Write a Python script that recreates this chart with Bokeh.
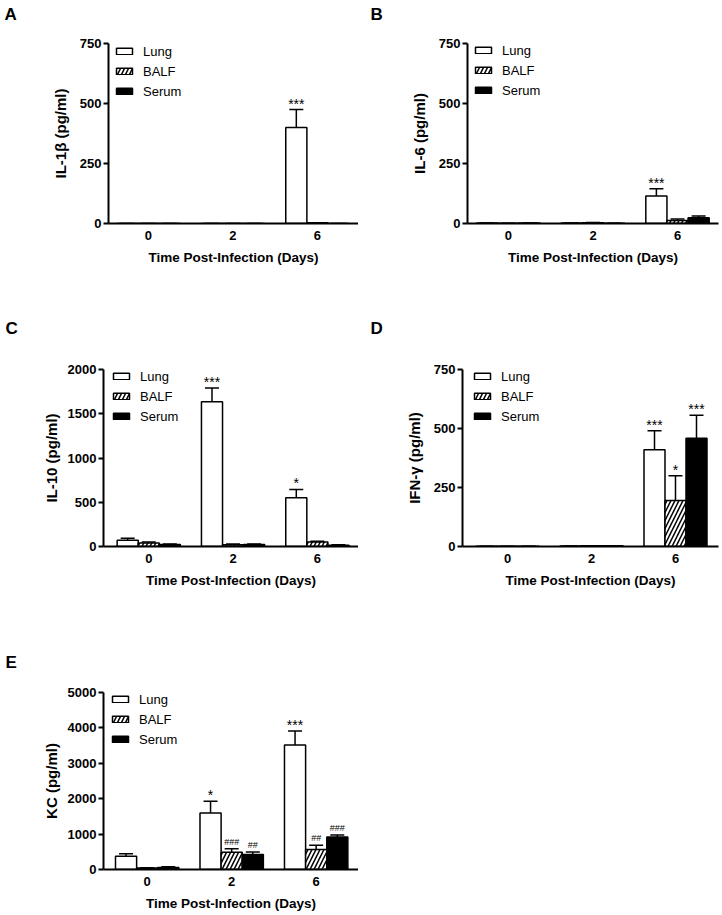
from bokeh.plotting import figure
from bokeh.models import (ColumnDataSource, Whisker, TeeHead, FixedTicker,
                          Range1d, Legend, LegendItem, Title)
from bokeh.layouts import column, row
from bokeh.embed import file_html
from bokeh.resources import INLINE
from bokeh.core.properties import value

FONT = "Liberation Sans"

# ---------------- data ----------------
days = ["0", "2", "6"]
series = ["Lung", "BALF", "Serum"]
x_title = "Time Post-Infection (Days)"

# A: IL-1beta
il1b_lung = [0, 0, 400]
il1b_lung_err = [0, 0, 75]
il1b_balf = [0, 0, 3]
il1b_balf_err = [0, 0, 0]
il1b_serum = [0, 0, 0]
il1b_serum_err = [0, 0, 0]
il1b_lung_sig = ["", "", "***"]
il1b_balf_sig = ["", "", ""]
il1b_serum_sig = ["", "", ""]

# B: IL-6
il6_lung = [2, 2, 115]
il6_lung_err = [0, 0, 30]
il6_balf = [1, 3, 12]
il6_balf_err = [0, 1, 7]
il6_serum = [2, 1, 24]
il6_serum_err = [0, 0, 7]
il6_lung_sig = ["", "", "***"]
il6_balf_sig = ["", "", ""]
il6_serum_sig = ["", "", ""]

# C: IL-10
il10_lung = [70, 1635, 550]
il10_lung_err = [22, 155, 95]
il10_balf = [40, 20, 50]
il10_balf_err = [12, 8, 8]
il10_serum = [22, 22, 15]
il10_serum_err = [6, 6, 6]
il10_lung_sig = ["", "***", "*"]
il10_balf_sig = ["", "", ""]
il10_serum_sig = ["", "", ""]

# D: IFN-gamma
ifng_lung = [1, 2, 410]
ifng_lung_err = [0, 0, 80]
ifng_balf = [1, 3, 195]
ifng_balf_err = [0, 0, 105]
ifng_serum = [1, 3, 459]
ifng_serum_err = [0, 0, 97]
ifng_lung_sig = ["", "", "***"]
ifng_balf_sig = ["", "", "*"]
ifng_serum_sig = ["", "", "***"]

# E: KC
kc_lung = [375, 1595, 3518]
kc_lung_err = [70, 330, 395]
kc_balf = [40, 488, 563]
kc_balf_err = [10, 95, 120]
kc_serum = [60, 422, 919]
kc_serum_err = [20, 75, 57]
kc_lung_sig = ["", "*", "***"]
kc_balf_sig = ["", "###", "##"]
kc_serum_sig = ["", "##", "###"]

yticks_750 = [0, 250, 500, 750]
yticks_2000 = [0, 500, 1000, 1500, 2000]
yticks_5000 = [0, 1000, 2000, 3000, 4000, 5000]

# ---------------- styling / layout ----------------
BAR_W = 0.25
OFFSETS = [-0.25, 0.0, 0.25]
STYLES = [
    dict(fill_color="white"),
    dict(fill_color="white", hatch_pattern="/", hatch_color="black",
         hatch_scale=8, hatch_weight=1.5),
    dict(fill_color="black"),
]
LEG_ROW = 18
LEG_SP = 2


def make_panel(letter, ylabel, ymax, yticks, vals, errs, sigs, g):
    fh = g["height"] - g["top"] - g["bottom"]
    p = figure(width=g["width"], height=g["height"],
               min_border_left=g["left"], min_border_right=g["right"],
               min_border_top=g["top"], min_border_bottom=g["bottom"],
               x_range=Range1d(g["xs"], g["xe"]), y_range=Range1d(0, ymax),
               output_backend="svg", toolbar_location=None, tools="")
    p.outline_line_color = None
    p.grid.visible = False
    p.background_fill_color = "white"
    p.border_fill_color = "white"

    # panel letter as the figure title, lifted by an empty spacer title
    p.title.text = letter
    p.title.align = "left"
    p.title.offset = g["tdx"]
    p.title.standoff = 0
    p.title.text_font = FONT
    p.title.text_font_style = "bold"
    p.title.text_font_size = "17px"
    p.title.text_color = "black"
    p.add_layout(Title(text=" ", text_font_size="1px", standoff=g["sp"]), "above")

    items = []
    for k, name in enumerate(series):
        xs = [i + OFFSETS[k] for i in range(len(days))]
        tops = vals[k]
        uppers = [t + e for t, e in zip(tops, errs[k])]
        src = ColumnDataSource(dict(x=xs, top=tops, upper=uppers))
        r = p.vbar(x="x", top="top", width=BAR_W, source=src,
                   line_color="black", line_width=1.5, **STYLES[k])
        items.append(LegendItem(label=name, renderers=[r]))
        w = Whisker(source=src, base="x", lower="top", upper="upper",
                    dimension="height", line_color="black", line_width=1.5,
                    lower_head=None,
                    upper_head=TeeHead(size=14, line_color="black", line_width=1.5),
                    level="glyph")
        p.add_layout(w)
        # significance marks
        star = [(x, u, s) for x, u, s in zip(xs, uppers, sigs[k]) if s.startswith("*")]
        hsh = [(x, u, s) for x, u, s in zip(xs, uppers, sigs[k]) if s.startswith("#")]
        if star:
            ssrc = ColumnDataSource(dict(x=[a[0] for a in star], y=[a[1] for a in star],
                                         t=[a[2] for a in star]))
            p.text(x="x", y="y", text="t", source=ssrc, text_align="center",
                   text_baseline="bottom", text_font=value(FONT),
                   text_font_size="14px", y_offset=2, text_color="black")
        if hsh:
            hsrc = ColumnDataSource(dict(x=[a[0] for a in hsh], y=[a[1] for a in hsh],
                                         t=[a[2] for a in hsh]))
            p.text(x="x", y="y", text="t", source=hsrc, text_align="center",
                   text_baseline="bottom", text_font=value(FONT),
                   text_font_size="9px", y_offset=-2, text_color="black")

    leg_h = 3 * LEG_ROW + 2 * LEG_SP
    legend = Legend(items=items, location=(g["ldx"], fh - leg_h - g["ldy"]),
                    glyph_width=20, glyph_height=8, label_height=LEG_ROW,
                    spacing=LEG_SP, padding=0, margin=0, label_standoff=9,
                    background_fill_alpha=0, border_line_color=None,
                    label_text_font=FONT, label_text_font_size="13px",
                    label_text_color="black")
    p.add_layout(legend)

    # axes
    p.xaxis.ticker = FixedTicker(ticks=list(range(len(days))))
    p.xaxis.major_label_overrides = {i: d for i, d in enumerate(days)}
    p.xaxis.major_tick_out = 0
    p.xaxis.major_tick_in = 0
    p.xaxis.minor_tick_out = 0
    p.xaxis.minor_tick_in = 0
    p.xaxis.major_label_standoff = 7
    p.xaxis.axis_label = x_title
    p.xaxis.axis_label_standoff = 7

    p.yaxis.ticker = FixedTicker(ticks=yticks)
    p.yaxis.major_tick_out = 5
    p.yaxis.major_tick_in = 0
    p.yaxis.minor_tick_out = 0
    p.yaxis.minor_tick_in = 0
    p.yaxis.major_tick_line_width = 2
    p.yaxis.major_label_standoff = 2
    p.yaxis.axis_label = ylabel
    p.yaxis.axis_label_standoff = g["yls"]

    for ax in (p.xaxis, p.yaxis):
        ax.axis_line_width = 2
        ax.axis_line_color = "black"
        ax.major_tick_line_color = "black"
        ax.major_label_text_font = FONT
        ax.major_label_text_font_style = "bold"
        ax.major_label_text_font_size = "13px"
        ax.major_label_text_color = "black"
        ax.axis_label_text_font = FONT
        ax.axis_label_text_font_style = "bold"
        ax.axis_label_text_color = "black"
    p.xaxis.axis_label_text_font_size = "13.5px"
    p.yaxis.axis_label_text_font_size = "15px"
    return p


# page-pixel layout of each panel (borders around the plotting frame)
GA = dict(width=358, height=280, left=108, right=0, top=43, bottom=57,
          xs=-0.473, xe=2.486, ldx=6, ldy=-1, tdx=-104, sp=17, yls=8)
GB = dict(width=362, height=280, left=109, right=2, top=43, bottom=57,
          xs=-0.485, xe=2.485, ldx=6, ldy=-2, tdx=-97, sp=17, yls=8)
GC = dict(width=358, height=315, left=103, right=0, top=89, bottom=49,
          xs=-0.537, xe=2.488, ldx=8, ldy=-2, tdx=-98, sp=29, yls=5)
GD = dict(width=362, height=315, left=104, right=2, top=89, bottom=49,
          xs=-0.536, xe=2.512, ldx=10, ldy=-2, tdx=-92, sp=29, yls=8)
GE = dict(width=358, height=318, left=103, right=0, top=97, bottom=44,
          xs=-0.517, xe=2.501, ldx=7, ldy=-2, tdx=-98, sp=18, yls=5)

pA = make_panel("A", "IL-1β (pg/ml)", 750, yticks_750,
                [il1b_lung, il1b_balf, il1b_serum],
                [il1b_lung_err, il1b_balf_err, il1b_serum_err],
                [il1b_lung_sig, il1b_balf_sig, il1b_serum_sig], GA)
pB = make_panel("B", "IL-6 (pg/ml)", 750, yticks_750,
                [il6_lung, il6_balf, il6_serum],
                [il6_lung_err, il6_balf_err, il6_serum_err],
                [il6_lung_sig, il6_balf_sig, il6_serum_sig], GB)
pC = make_panel("C", "IL-10 (pg/ml)", 2000, yticks_2000,
                [il10_lung, il10_balf, il10_serum],
                [il10_lung_err, il10_balf_err, il10_serum_err],
                [il10_lung_sig, il10_balf_sig, il10_serum_sig], GC)
pD = make_panel("D", "IFN-γ (pg/ml)", 750, yticks_750,
                [ifng_lung, ifng_balf, ifng_serum],
                [ifng_lung_err, ifng_balf_err, ifng_serum_err],
                [ifng_lung_sig, ifng_balf_sig, ifng_serum_sig], GD)
pE = make_panel("E", "KC (pg/ml)", 5000, yticks_5000,
                [kc_lung, kc_balf, kc_serum],
                [kc_lung_err, kc_balf_err, kc_serum_err],
                [kc_lung_sig, kc_balf_sig, kc_serum_sig], GE)

layout = column(row(pA, pB), row(pC, pD), row(pE))
open("out.html", "w").write(file_html(layout, INLINE))
